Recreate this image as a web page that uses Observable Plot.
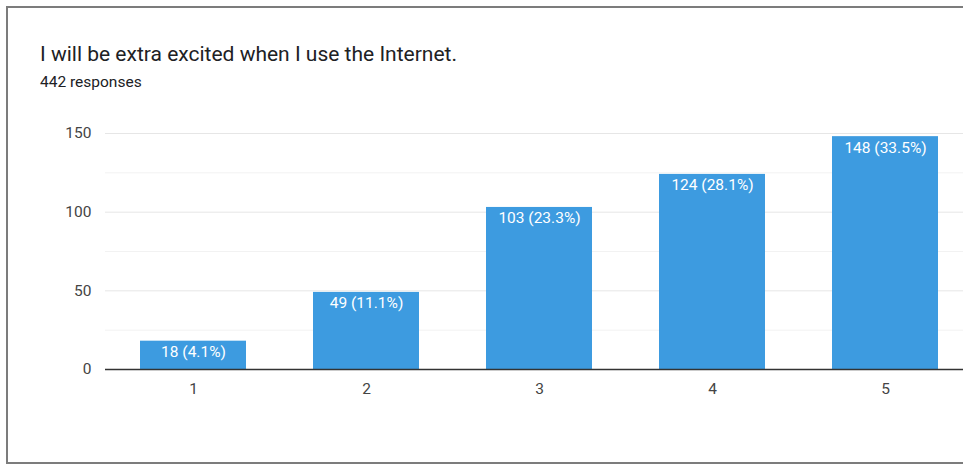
<!DOCTYPE html>
<html>
<head>
<meta charset="utf-8">
<script src="https://cdn.jsdelivr.net/npm/d3@7"></script>
<script src="https://cdn.jsdelivr.net/npm/@observablehq/plot@0.6"></script>
<style>
  html, body { margin: 0; padding: 0; background: #fff; overflow: hidden; }
  #frame { position: relative; width: 963px; height: 465px; overflow: hidden; font-family: Roboto, "Noto Sans", Arial, sans-serif; }
  #card { position: absolute; left: 6px; top: 6px; width: 1100px; height: 458px; border: 2px solid #7c7c7c; border-right: none; box-sizing: border-box; }
  #title { position: absolute; left: 40px; top: 44px; font-size: 21px; line-height: 21px; color: #202124; white-space: nowrap; }
  #subtitle { position: absolute; left: 40px; top: 75px; font-size: 15.5px; line-height: 15.5px; color: #202124; white-space: nowrap; }
  #chart { position: absolute; left: 0; top: 110px; width: 1000px; }
  #chart svg { max-width: none !important; }
</style>
</head>
<body>
<div id="frame">
  <div id="card"></div>
  <div id="title">I will be extra excited when I use the Internet.</div>
  <div id="subtitle">442 responses</div>
  <div id="chart"></div>
</div>
<script>
// Linear-scale ratings and how many respondents picked each
const ratings = ["1", "2", "3", "4", "5"];
const counts = [18, 49, 103, 124, 148];
const percents = ["4.1", "11.1", "23.3", "28.1", "33.5"];
const yTicks = [0, 50, 100, 150];
const majorGrid = [50, 100, 150];
const minorGrid = [25, 75, 125];

const rows = ratings.map((r, i) => ({
  rating: r,
  count: counts[i],
  label: `${counts[i]} (${percents[i]}%)`
}));

const chart = Plot.plot({
  width: 1000,
  height: 340,
  marginLeft: 105,
  marginRight: 27,
  marginTop: 23,
  marginBottom: 81,
  style: { fontFamily: "Roboto, Arial, sans-serif", fontSize: "15.5px", color: "#444", background: "transparent", maxWidth: "none" },
  x: { domain: ratings, paddingInner: 0.39, paddingOuter: 0.195, label: null },
  y: { domain: [0, 150], label: null },
  marks: [
    Plot.ruleY(minorGrid, { stroke: "#f2f2f2", strokeWidth: 1 }),
    Plot.ruleY(majorGrid, { stroke: "#e6e6e6", strokeWidth: 1 }),
    Plot.barY(rows, { x: "rating", y: "count", fill: "#3d9be0" }),
    Plot.text(rows, {
      x: "rating", y: "count", text: "label",
      fill: "#fff", lineAnchor: "top", dy: 5, fontSize: 15.5
    }),
    Plot.ruleY([0], { stroke: "#333", strokeWidth: 1.6 }),
    Plot.axisY({ ticks: yTicks, tickSize: 0, tickPadding: 14, fill: "#444", label: null }),
    Plot.axisX({ tickSize: 0, tickPadding: 13, fill: "#444", label: null })
  ]
});
document.getElementById("chart").appendChild(chart);
</script>
</body>
</html>
